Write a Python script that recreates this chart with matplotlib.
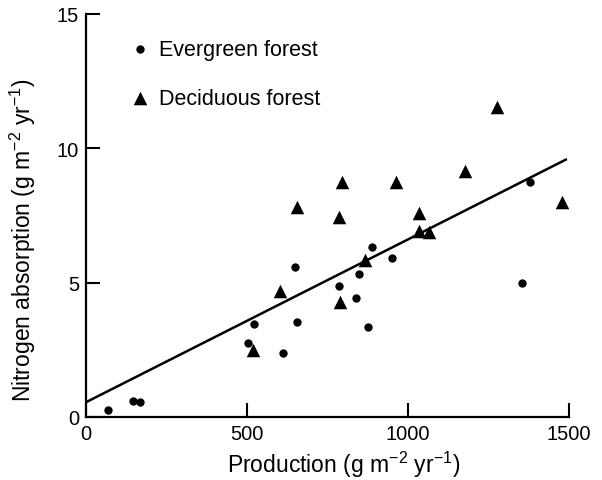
import numpy as np
import matplotlib
matplotlib.use("Agg")
import matplotlib.pyplot as plt

#### Dados ####
# Floresta perene (círculos)
ever_x = [69, 145, 169, 504, 521, 611, 650, 654, 787, 838, 849, 877, 887, 951, 1353, 1379]
ever_y = [0.27, 0.58, 0.55, 2.75, 3.45, 2.39, 5.57, 3.52, 4.86, 4.42, 5.33, 3.35, 6.34, 5.92, 5.0, 8.76]

# Floresta decídua (triângulos)
dec_x = [518, 602, 654, 786, 789, 794, 865, 963, 1034, 1034, 1066, 1177, 1275, 1477]
dec_y = [2.48, 4.70, 7.80, 7.43, 4.29, 8.73, 5.86, 8.76, 7.60, 6.91, 6.90, 9.17, 11.53, 7.99]

# Reta de regressão
reta_x = [0, 1490]
intercepto = 0.55
inclinacao = 0.00606

x_ticks = [0, 500, 1000, 1500]
y_ticks = [0, 5, 10, 15]

plt.rcParams['font.family'] = ['Liberation Sans', 'DejaVu Sans']
plt.rcParams['mathtext.fontset'] = 'custom'
plt.rcParams['mathtext.rm'] = 'Liberation Sans'
plt.rcParams['mathtext.it'] = 'Liberation Sans'
plt.rcParams['mathtext.default'] = 'regular'

fig = plt.figure(figsize=(6.02, 4.81), dpi=100)
ax = fig.add_axes([86 / 602, 63 / 481, 483 / 602, 403 / 481])

ax.scatter(ever_x, ever_y, marker='o', s=36, color='black', linewidths=0,
           label='Evergreen forest', zorder=3)
ax.scatter(dec_x, dec_y, marker='^', s=95, color='black', linewidths=0,
           label='Deciduous forest', zorder=3)

ry = [intercepto + inclinacao * v for v in reta_x]
ax.plot(reta_x, ry, color='black', lw=1.8, zorder=2)

ax.set_xlim(0, 1500)
ax.set_ylim(0, 15)
ax.set_xticks(x_ticks)
ax.set_yticks(y_ticks)
ax.tick_params(direction='in', length=10, width=1.5, labelsize=14.5, pad=5, colors='black')

for lado in ['top', 'right']:
    ax.spines[lado].set_visible(False)
for lado in ['left', 'bottom']:
    ax.spines[lado].set_linewidth(1.6)

ax.set_xlabel('Production (g m$^{\u22122}$ yr$^{\u22121}$)', fontsize=16.5)
ax.set_ylabel('Nitrogen absorption (g m$^{\u22122}$ yr$^{\u22121}$)', fontsize=16.5)
ax.xaxis.set_label_coords(0.534, -0.079)
ax.yaxis.set_label_coords(-0.10, 0.44)

leg = ax.legend(loc='upper left', bbox_to_anchor=(122 / 602, 1 - 29 / 481),
                bbox_transform=fig.transFigure, frameon=False, fontsize=15.5,
                handlelength=0.7, handletextpad=0.5, labelspacing=1.3,
                borderpad=0, scatterpoints=1)

fig.savefig('out.png', dpi=100)
plt.close(fig)
